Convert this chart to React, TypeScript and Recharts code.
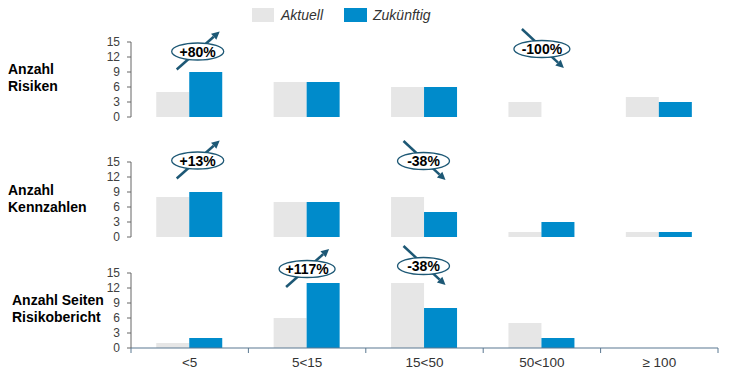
import React from 'react';
import { BarChart, Bar, XAxis, YAxis, ReferenceDot } from 'recharts';

const categories = ['<5', '5<15', '15<50', '50<100', '≥ 100'];
const seriesNames = ['Aktuell', 'Zukünftig'];
const yTicks = [0, 3, 6, 9, 12, 15];

const risikenAktuell = [5, 7, 6, 3, 4];
const risikenZukunft = [9, 7, 6, 0, 3];
const kennzahlenAktuell = [8, 7, 8, 1, 1];
const kennzahlenZukunft = [9, 7, 5, 3, 1];
const seitenAktuell = [1, 6, 13, 5, 0];
const seitenZukunft = [2, 13, 8, 2, 0];

const risikenChanges = ['+80%', '-100%'];
const kennzahlenChanges = ['+13%', '-38%'];
const seitenChanges = ['+117%', '-38%'];

const FONT = '"Liberation Sans", Arial, sans-serif';
const GREY = '#E6E6E6';
const BLUE = '#008BCB';
const ARROW = '#1D5875';
const W = 730;
const AXIS_X = 131;
const RIGHT = 12;
const BAND = (W - AXIS_X - RIGHT) / categories.length;

const build = (a: number[], z: number[]) =>
  categories.map((c, i) => ({ name: c, aktuell: a[i], zukunft: z[i] }));

// change bubbles: anchor category, level (in axis units), pixel shift
type Note = { cat: string; level: number; dx: number; up: boolean; text: string };

const noteShape = (n: Note) => (props: any) => {
  const cx = props.cx + n.dx;
  const cy = props.cy;
  const x1 = n.up ? cx - 21 : cx - 20;
  const y1 = n.up ? cy + 18 : cy - 20;
  const x2 = n.up ? cx + 22 : cx + 22;
  const y2 = n.up ? cy - 20 : cy + 19;
  const len = Math.hypot(x2 - x1, y2 - y1);
  const ux = (x2 - x1) / len;
  const uy = (y2 - y1) / len;
  const hl = 8;
  const hw = 4;
  const bx = x2 - ux * hl;
  const by = y2 - uy * hl;
  const rx = n.text.length > 4 ? 28 : 26;
  return (
    <g>
      <line x1={x1} y1={y1} x2={bx} y2={by} stroke={ARROW} strokeWidth={2.5} />
      <polygon
        points={`${x2},${y2} ${bx - uy * hw},${by + ux * hw} ${bx + uy * hw},${by - ux * hw}`}
        fill={ARROW}
      />
      <ellipse cx={cx} cy={cy} rx={rx} ry={8.5} fill="#fff" stroke={ARROW} strokeWidth={1.3} />
      <text x={cx} y={cy + 5} textAnchor="middle" fontFamily={FONT} fontSize={14} fontWeight="bold" fill="#000">
        {n.text}
      </text>
    </g>
  );
};

const CatTick = (props: any) => {
  const { x, y, payload, index, showLabel } = props;
  return (
    <g>
      <line x1={x + BAND / 2} y1={y} x2={x + BAND / 2} y2={y + 5} stroke="#5B7891" />
      {index === 0 && <line x1={x - BAND / 2} y1={y} x2={x - BAND / 2} y2={y + 5} stroke="#5B7891" />}
      {showLabel && (
        <text x={x} y={y + 19} textAnchor="middle" fontFamily={FONT} fontSize={13.5} fill="#333">
          {payload.value}
        </text>
      )}
    </g>
  );
};

type PanelProps = {
  top: number;
  height: number;
  xHeight: number;
  data: any[];
  notes: Note[];
  showLabel: boolean;
};

const Panel = ({ top, height, xHeight, data, notes, showLabel }: PanelProps) => (
  <div style={{ position: 'absolute', left: 0, top }}>
    <BarChart
      width={W}
      height={height}
      data={data}
      margin={{ top: 42, right: RIGHT, left: 0, bottom: showLabel ? 0 : 13 }}
      barCategoryGap="21.5%"
      barGap={0}
    >
      <XAxis
        dataKey="name"
        height={xHeight}
        axisLine={{ stroke: '#5B7891', strokeWidth: 1.2 }}
        tickLine={false}
        tickSize={0}
        tickMargin={0}
        interval={0}
        tick={<CatTick showLabel={showLabel} />}
      />
      <YAxis
        width={AXIS_X}
        domain={[0, 15]}
        ticks={yTicks}
        interval={0}
        axisLine={{ stroke: '#666' }}
        tickLine={{ stroke: '#666' }}
        tickSize={4}
        tickMargin={7}
        tick={{ fontFamily: FONT, fontSize: 12, fill: '#404040' }}
      />
      <Bar dataKey="aktuell" fill={GREY} isAnimationActive={false} />
      <Bar dataKey="zukunft" fill={BLUE} isAnimationActive={false} />
      {notes.map((n, i) => (
        <ReferenceDot key={i} x={n.cat} y={n.level} r={0} ifOverflow="visible" shape={noteShape(n)} />
      ))}
    </BarChart>
  </div>
);

const Label = ({ top, left, lines }: { top: number; left: number; lines: string[] }) => (
  <div
    style={{
      position: 'absolute',
      top,
      left,
      fontFamily: FONT,
      fontSize: 14,
      fontWeight: 'bold',
      lineHeight: '17px',
      color: '#000',
      whiteSpace: 'nowrap',
    }}
  >
    {lines.map((l, i) => (
      <div key={i}>{l}</div>
    ))}
  </div>
);

export default function App() {
  const risikenNotes: Note[] = [
    { cat: categories[0], level: 13.1, dx: 8, up: true, text: risikenChanges[0] },
    { cat: categories[3], level: 13.6, dx: 0, up: false, text: risikenChanges[1] },
  ];
  const kennzahlenNotes: Note[] = [
    { cat: categories[0], level: 15.3, dx: 8, up: true, text: kennzahlenChanges[0] },
    { cat: categories[2], level: 15.2, dx: -1, up: false, text: kennzahlenChanges[1] },
  ];
  const seitenNotes: Note[] = [
    { cat: categories[1], level: 15.8, dx: 0, up: true, text: seitenChanges[0] },
    { cat: categories[2], level: 16.4, dx: -1, up: false, text: seitenChanges[1] },
  ];

  return (
    <div style={{ position: 'absolute', left: 0, top: 0, width: W, height: 377, background: '#fff', overflow: 'hidden' }}>
      {/* legend */}
      <div style={{ position: 'absolute', top: 7, left: 252, display: 'flex', alignItems: 'center', fontFamily: FONT, fontSize: 14, fontStyle: 'italic', color: '#333' }}>
        <span style={{ width: 22, height: 14, background: GREY, display: 'inline-block', marginRight: 7 }} />
        <span style={{ marginRight: 21 }}>{seriesNames[0]}</span>
        <span style={{ width: 23, height: 14, background: BLUE, display: 'inline-block', marginRight: 6 }} />
        <span>{seriesNames[1]}</span>
      </div>

      <Panel top={0} height={130} xHeight={0} data={build(risikenAktuell, risikenZukunft)} notes={risikenNotes} showLabel={false} />
      <Panel top={120} height={130} xHeight={0} data={build(kennzahlenAktuell, kennzahlenZukunft)} notes={kennzahlenNotes} showLabel={false} />
      <Panel top={231} height={146} xHeight={29} data={build(seitenAktuell, seitenZukunft)} notes={seitenNotes} showLabel={true} />

      <Label top={61} left={8} lines={['Anzahl', 'Risiken']} />
      <Label top={182} left={8} lines={['Anzahl', 'Kennzahlen']} />
      <Label top={292} left={12} lines={['Anzahl Seiten', 'Risikobericht']} />
    </div>
  );
}
